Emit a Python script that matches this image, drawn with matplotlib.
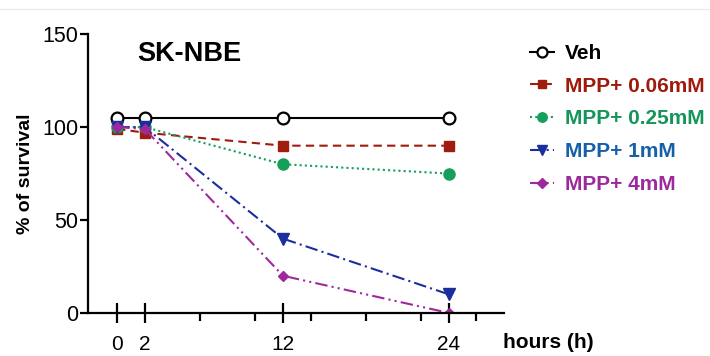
"""
SK-NBE survival after MPP+ treatment
"""
import matplotlib
matplotlib.use('Agg')
from matplotlib import pyplot as plt
from matplotlib.lines import Line2D

plt.rcParams['font.family'] = ['Liberation Sans', 'DejaVu Sans']

hours = [0, 2, 12, 24]
veh = [105, 105, 105, 105]
mpp_006 = [99, 97, 90, 90]
mpp_025 = [100, 100, 80, 75]
mpp_1 = [100, 100, 40, 10]
mpp_4 = [100, 99, 20, 0]

labels = ['Veh', 'MPP+ 0.06mM', 'MPP+ 0.25mM', 'MPP+ 1mM', 'MPP+ 4mM']
text_colors = ['black', '#9e1a0c', '#14955a', '#1560a8', '#9c2a9c']

major_x = [0, 2, 12, 24]
minor_x = [6, 10, 14, 18, 22, 26]
y_ticks = [0, 50, 100, 150]


def main():
    fig = plt.figure(figsize=(7.1, 3.56), dpi=100)
    ax = fig.add_axes([0.124, 0.121, 0.586, 0.783])

    # faint border line at top of screenshot
    fig.add_artist(Line2D([0, 1], [0.975, 0.975], color='#ebebeb', lw=1,
                          transform=fig.transFigure))

    ax.plot(hours, veh, color='black', lw=1.5, ls='-', marker='o', ms=8.5,
            mfc='white', mec='black', mew=1.6, label=labels[0])
    ax.plot(hours, mpp_006, color='#a01c0e', lw=1.5, ls=(0, (4, 2.5)),
            marker='s', ms=7.5, label=labels[1])
    ax.plot(hours, mpp_025, color='#14a05a', lw=1.5, ls=(0, (1, 1.5)),
            marker='o', ms=8, label=labels[2])
    ax.plot(hours, mpp_1, color='#1a2e9e', lw=1.5, ls=(0, (6, 2, 1, 2)),
            marker='v', ms=8, label=labels[3])
    ax.plot(hours, mpp_4, color='#a0289e', lw=1.5,
            ls=(0, (6, 2, 1, 2, 1, 2)), marker='D', ms=5.5, label=labels[4])

    ax.set_xlim(-2.1, 28)
    ax.set_ylim(0, 150)
    for side in ['top', 'right']:
        ax.spines[side].set_visible(False)
    for side in ['left', 'bottom']:
        ax.spines[side].set_linewidth(1.6)

    ax.set_xticks(major_x)
    ax.set_xticks(minor_x, minor=True)
    ax.set_yticks(y_ticks)
    ax.tick_params(axis='x', which='major', direction='inout', length=14,
                   width=1.6, labelsize=15, pad=9)
    ax.tick_params(axis='x', which='minor', direction='out', length=6,
                   width=1.6)
    ax.tick_params(axis='y', which='major', direction='out', length=6,
                   width=1.6, labelsize=15.5, pad=1)

    ax.set_ylabel('% of survival', fontsize=14, fontweight='bold', labelpad=6)
    fig.text(0.772, 0.039, 'hours (h)', fontsize=15, fontweight='bold',
             ha='center', va='center')
    ax.text(0.118, 0.93, 'SK-NBE', transform=ax.transAxes, fontsize=19.5,
            fontweight='bold', va='center')

    leg = ax.legend(loc='upper left', bbox_to_anchor=(1.062, 0.965),
                    frameon=False, handlelength=1.15, handletextpad=0.55,
                    labelspacing=0.66, prop={'size': 15, 'weight': 'bold'},
                    borderaxespad=0, borderpad=0, markerscale=0.85)
    for txt, c in zip(leg.get_texts(), text_colors):
        txt.set_color(c)

    fig.savefig('out.png', dpi=100)


if __name__ == '__main__':
    main()
